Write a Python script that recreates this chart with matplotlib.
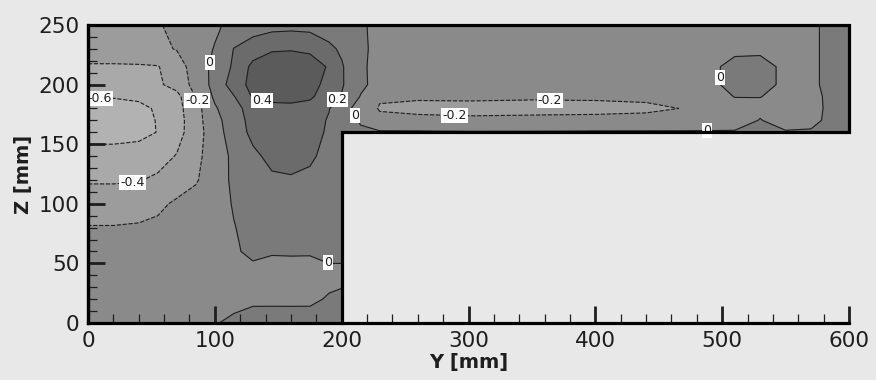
import numpy as np
import matplotlib
matplotlib.use('Agg')
import matplotlib.pyplot as plt
from matplotlib.ticker import MultipleLocator

# grid nodes (mm) and the field
y_mm = [0, 20, 40, 55, 70, 85, 100, 115, 130, 145, 160, 175, 190, 200,
        215, 230, 260, 300, 350, 400, 440, 470, 490, 510, 530, 550, 570, 585, 600]
z_mm = [0, 20, 40, 60, 80, 100, 120, 140, 160, 170, 180, 190, 200, 215, 230, 250]

N = np.nan
cut = [N] * 15   # no flow below the channel (Y > 200, Z < 160)

field = [
    [-0.09, -0.09, -0.08, -0.07, -0.05, -0.03, -0.01, 0.033, 0.093, 0.082, 0.07, 0.047, 0.05, 0.05] + cut,
    [-0.10, -0.10, -0.10, -0.09, -0.08, -0.07, -0.06, -0.05, -0.04, -0.035, -0.03, -0.02, 0.01, 0.025] + cut,
    [-0.12, -0.12, -0.11, -0.10, -0.09, -0.08, -0.07, -0.06, -0.05, -0.05, -0.05, -0.045, -0.03, -0.03] + cut,
    [-0.15, -0.15, -0.14, -0.13, -0.11, -0.08, -0.05, -0.02, 0.033, 0.01, 0.012, 0.01, 0.03, 0.03] + cut,
    [-0.19, -0.19, -0.18, -0.16, -0.13, -0.10, -0.05, -0.005, 0.04, 0.06, 0.07, 0.06, 0.05, 0.04] + cut,
    [-0.30, -0.30, -0.28, -0.24, -0.17, -0.12, -0.06, 0.01, 0.07, 0.10, 0.10, 0.09, 0.07, 0.06] + cut,
    [-0.42, -0.42, -0.41, -0.37, -0.30, -0.22, -0.08, 0.03, 0.12, 0.17, 0.18, 0.16, 0.12, 0.10] + cut,
    [-0.55, -0.55, -0.52, -0.47, -0.39, -0.25, -0.10, 0.04, 0.16, 0.25, 0.27, 0.23, 0.14, 0.10] + cut,
    [-0.65, -0.65, -0.65, -0.595, -0.47, -0.29, -0.08, 0.09, 0.25, 0.30, 0.31, 0.28, 0.17, 0.10,
     0.03, 0.02, 0.02, 0.015, 0.015, 0.02, 0.02, 0.02, 0.02, 0.02, 0.03, 0.02, 0.02, 0.04, 0.06],
    [-0.68, -0.68, -0.66, -0.59, -0.48, -0.28, -0.06, 0.10, 0.27, 0.32, 0.33, 0.30, 0.18, 0.10,
     -0.02, -0.14, -0.16, -0.17, -0.16, -0.16, -0.15, -0.14, -0.12, -0.10, 0.01, -0.10, -0.05, 0.04, 0.07],
    [-0.66, -0.66, -0.64, -0.58, -0.46, -0.28, -0.02, 0.12, 0.30, 0.35, 0.36, 0.33, 0.21, 0.05,
     -0.05, -0.22, -0.24, -0.25, -0.25, -0.24, -0.23, -0.195, -0.12, -0.06, -0.05, -0.08, -0.07, 0.04, 0.07],
    [-0.59, -0.59, -0.57, -0.52, -0.46, -0.19, 0.03, 0.19, 0.42, 0.45, 0.45, 0.43, 0.30, 0.19,
     -0.01, -0.17, -0.18, -0.17, -0.18, -0.18, -0.17, -0.14, -0.07, 0.005, 0.005, -0.06, -0.06, 0.04, 0.07],
    [-0.52, -0.52, -0.50, -0.43, -0.33, -0.13, 0.06, 0.30, 0.46, 0.55, 0.55, 0.48, 0.33, 0.22,
     0.04, -0.07, -0.10, -0.12, -0.12, -0.12, -0.11, -0.09, -0.03, 0.04, 0.05, -0.03, -0.04, 0.05, 0.08],
    [-0.42, -0.42, -0.42, -0.41, -0.30, -0.10, 0.05, 0.23, 0.45, 0.55, 0.56, 0.50, 0.38, 0.22,
     0.03, -0.06, -0.10, -0.11, -0.11, -0.11, -0.10, -0.08, -0.03, 0.04, 0.05, -0.03, -0.04, 0.05, 0.08],
    [-0.30, -0.30, -0.27, -0.24, -0.19, -0.09, 0.01, 0.205, 0.30, 0.37, 0.38, 0.36, 0.24, 0.17,
     0.04, -0.06, -0.09, -0.10, -0.10, -0.10, -0.09, -0.08, -0.05, -0.03, -0.03, -0.05, -0.04, 0.05, 0.08],
    [-0.35, -0.33, -0.28, -0.22, -0.14, -0.08, -0.03, 0.05, 0.10, 0.13, 0.14, 0.13, 0.10, 0.08,
     0.03, -0.06, -0.08, -0.09, -0.10, -0.10, -0.09, -0.08, -0.06, -0.05, -0.05, -0.05, -0.04, 0.05, 0.08],
]

levels = [-0.6, -0.4, -0.2, 0, 0.2, 0.4]
fill_levels = [-0.8] + levels + [0.6]
fill_colors = ['#b2b2b2', '#a9a9a9', '#9c9c9c', '#8a8a8a', '#7a7a7a', '#6b6b6b', '#5b5b5b']

# where the contour values are written on the plot
label_spots = {
    -0.6: [(9, 189)],
    -0.4: [(35, 118)],
    -0.2: [(88, 188), (289, 175), (364, 183)],
    0: [(95, 219), (209, 173), (189, 50), (506, 206), (488, 162)],
    0.2: [(197, 187)],
    0.4: [(137, 187)],
}

# outline of the L-shaped section
outline_y = [0, 0, 600, 600, 200, 200]
outline_z = [0, 250, 250, 160, 160, 0]

bg = '#e8e8e8'
ink = '#1e1e1e'

fig = plt.figure(figsize=(8.76, 3.80), dpi=100, facecolor=bg)
ax = fig.add_axes([88 / 876, 57 / 380, 761 / 876, 298 / 380])
ax.set_facecolor(bg)

V = np.ma.masked_invalid(np.array(field))
ax.contourf(y_mm, z_mm, V, levels=fill_levels, colors=fill_colors, corner_mask=False)

# one contour set per level so each label lands on its own line
for lev in levels:
    cs = ax.contour(y_mm, z_mm, V, levels=[lev], colors=ink, linewidths=0.8,
                    corner_mask=False)
    txts = ax.clabel(cs, manual=label_spots[lev], inline=False,
                     fmt=lambda v: '{:g}'.format(v), fontsize=9, colors=ink)
    for t in txts:
        t.set_rotation(0)
        t.set_bbox(dict(boxstyle='square,pad=0.08', fc='white', ec='none'))

ax.plot(outline_y, outline_z, color='black', lw=2.3, clip_on=False,
        solid_joinstyle='miter', zorder=4)

ax.set_xlim(0, 600)
ax.set_ylim(0, 250)
ax.xaxis.set_major_locator(MultipleLocator(100))
ax.xaxis.set_minor_locator(MultipleLocator(20))
ax.yaxis.set_major_locator(MultipleLocator(50))
ax.yaxis.set_minor_locator(MultipleLocator(10))
ax.tick_params(which='major', direction='in', length=12, width=2, labelsize=15.5,
               pad=6, colors=ink)
ax.tick_params(which='minor', direction='in', length=6.5, width=0.9, colors=ink)
ax.tick_params(which='both', top=False, right=False)

for side in ['top', 'right']:
    ax.spines[side].set_visible(False)
for side in ['left', 'bottom']:
    ax.spines[side].set_linewidth(2.3)
    ax.spines[side].set_color('black')

ax.set_xlabel('Y [mm]', fontsize=14, fontweight='bold', color=ink, labelpad=1)
ax.set_ylabel('Z [mm]', fontsize=14, fontweight='bold', color=ink, labelpad=4)

fig.savefig('out.png', dpi=100, facecolor=bg)
